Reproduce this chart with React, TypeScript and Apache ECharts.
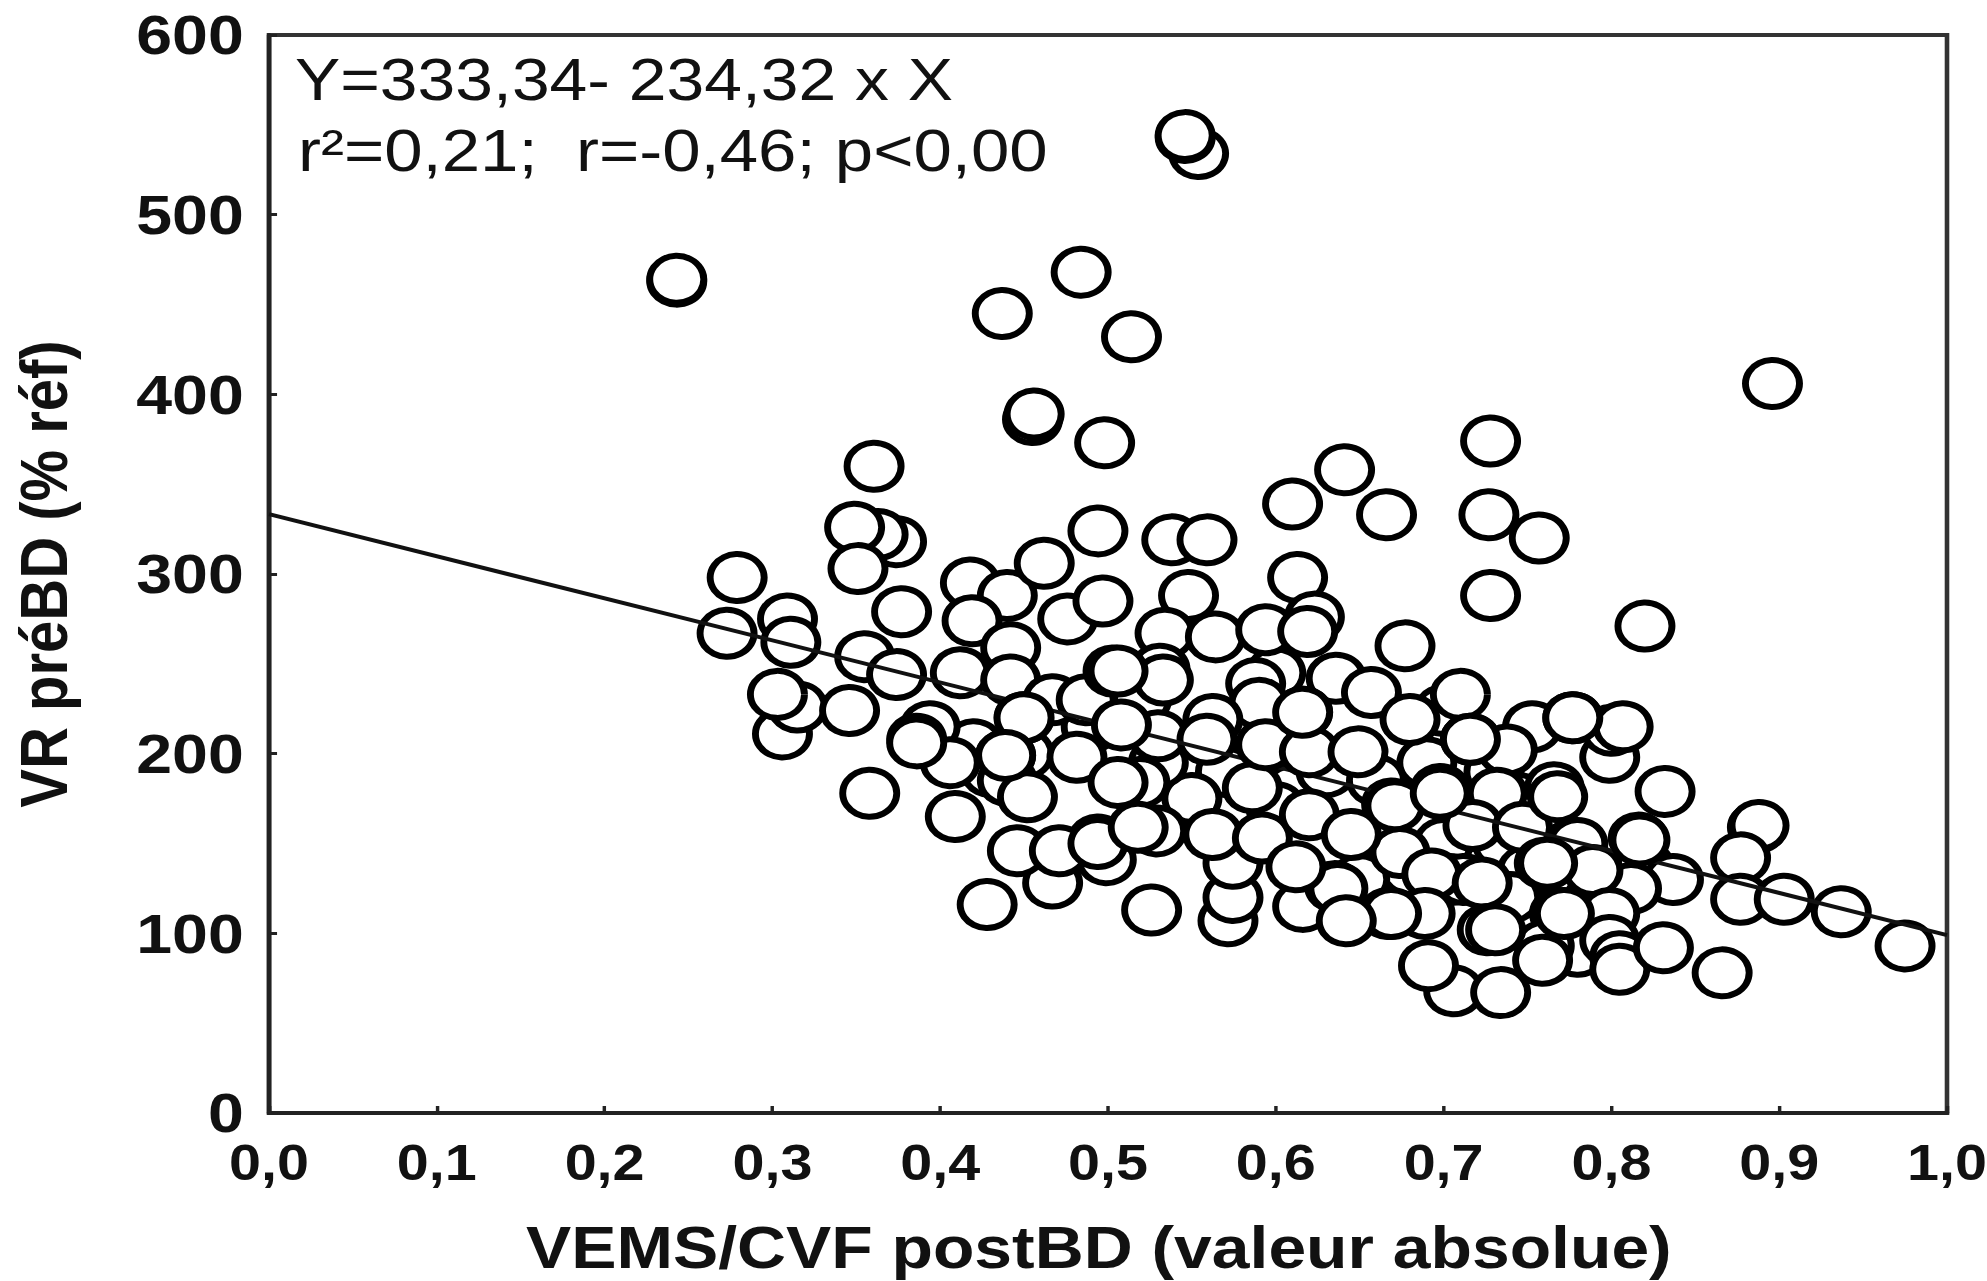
import React, { useEffect, useRef } from "react";
import * as echarts from "echarts";

const xTicks = { min: 0, max: 1, step: 0.1 };
const yTicks = { min: 0, max: 600, step: 100 };
const equationLine = "Y=333,34- 234,32 x X";
const statsLine = "r²=0,21;  r=-0,46; p<0,00";
const xTitle = "VEMS/CVF postBD (valeur absolue)";
const yTitle = "VR préBD (% réf)";
const regression: number[][] = [[0, 333.34], [1, 99.02]];

const isolated: number[][] = [
  [.243, 463], [.243, 464], [.554, 534], [.546, 543], [.546, 544], [.484, 468], [.437, 445], [.514, 432], [.896, 406],
  [.455, 386], [.456, 389], [.498, 373], [.3606, 360], [.728, 374], [.641, 358], [.61, 339], [.666, 333],
  [.727, 333], [.757, 320], [.728, 288], [.82, 271], [.358, 178], [.428, 116], [.526, 113], [.5715, 107], [.5745, 120],
];

const hiddenBehind: number[][] = [
  [.735, 150], [.75, 135], [.74, 120], [.70, 150], [.68, 135], [.65, 130], [.61, 180], [.60, 170], [.63, 190],
  [.57, 190], [.55, 175], [.53, 195], [.60, 245], [.52, 230], [.53, 210], [.42, 205], [.43, 190], [.45, 200],
  [.49, 215], [.66, 185], [.69, 195], [.73, 190], [.78, 150], [.745, 175], [.79, 120], [.78, 90],
];

const underLine: number[][] = [
  [.374, 318], [.363, 322], [.349, 326], [.351, 303], [.279, 298], [.273, 267], [.309, 275], [.311, 262],
  [.377, 279], [.306, 211], [.315, 226], [.303, 233], [.346, 224], [.355, 254], [.374, 244], [.418, 295],
  [.44, 288], [.419, 274], [.462, 306], [.476, 275], [.497, 285], [.494, 324], [.442, 259], [.412, 245],
  [.442, 241], [.394, 215], [.386, 208], [.45, 220], [.406, 195], [.439, 199], [.467, 230], [.487, 230],
  [.503, 246], [.538, 319], [.559, 319], [.548, 288], [.534, 267], [.564, 265], [.613, 298], [.623, 276],
  [.594, 269], [.619, 268], [.677, 260], [.531, 247], [.533, 241], [.636, 242], [.657, 234], [.616, 223],
  [.588, 239], [.59, 228], [.5625, 219], [.559, 208], [.70, 224], [.71, 233], [.716, 208], [.753, 215],
  [.777, 220], [.799, 198], [.80, 213], [.807, 215], [.68, 219], [.738, 202], [.757, 170], [.766, 181],
  [.669, 172], [.674, 145], [.698, 180], [.732, 178], [.7175, 160], [.747, 159], [.76, 139], [.82, 137],
  [.837, 130], [.816, 153], [.812, 125], [.789, 135], [.887, 159], [.888, 160], [.877, 142], [.877, 119],
  [.903, 119], [.937, 112], [.975, 93], [.704, 130], [.712, 130], [.693, 133], [.769, 111], [.667, 111],
  [.689, 111], [.799, 111], [.799, 96], [.76, 93], [.759, 85], [.805, 87], [.805, 80], [.866, 78],
  [.706, 68], [.734, 67], [.519, 184], [.529, 157], [.499, 141], [.494, 152], [.44, 185], [.467, 128],
  [.5745, 139], [.616, 115], [.635, 126], [.637, 125], [.669, 111],
];

const overLine: number[][] = [
  [.832, 179], [.409, 165], [.452, 176], [.446, 146], [.471, 146], [.494, 150], [.518, 159], [.5625, 155],
  [.592, 153], [.612, 137], [.642, 107], [.45, 220], [.439, 199], [.4815, 198], [.506, 184], [.508, 216],
  [.506, 246], [.386, 206], [.586, 181], [.594, 205], [.62, 201], [.62, 166], [.645, 155], [.649, 201],
  [.616, 223], [.671, 171], [.698, 178], [.716, 208], [.723, 128], [.726, 102], [.731, 102], [.691, 82],
  [.768, 176], [.772, 111], [.762, 139], [.817, 152], [.831, 92], [.777, 220],
];

const stretch = 1.15;
const plotLeft = 269 / stretch;
const plotWidth = 1678 / stretch;
const font = "'Liberation Sans', Arial, sans-serif";

export default function App() {
  const ref = useRef<HTMLDivElement>(null);
  useEffect(() => {
    const chart = echarts.init(ref.current!, undefined, { renderer: "svg" });
    const marker = {
      type: "scatter" as const,
      symbol: "circle",
      symbolSize: 47,
      itemStyle: { color: "#fff", borderColor: "#000", borderWidth: 6, opacity: 1 },
      silent: true,
    };
    const axisBase = {
      type: "value" as const,
      splitLine: { show: false },
      axisLine: { show: true, onZero: false, lineStyle: { color: "#222", width: 4 } },
      axisTick: { show: true, inside: true, length: 7, lineStyle: { color: "#222", width: 3 } },
      nameLocation: "middle" as const,
    };
    chart.setOption({
      animation: false,
      backgroundColor: "#fff",
      grid: { left: plotLeft, width: plotWidth, top: 35, height: 1078, show: true, outerBoundsMode: "none", borderColor: "#333", borderWidth: 4, backgroundColor: "transparent" },
      xAxis: {
        ...axisBase,
        min: xTicks.min, max: xTicks.max, interval: xTicks.step,
        name: xTitle, nameGap: 105,
        nameTextStyle: { fontFamily: font, fontWeight: "bold", fontSize: 59, color: "#111", padding: [0, 16, 0, 0] },
        axisLabel: { fontFamily: font, fontWeight: "bold", fontSize: 50, lineHeight: 44, color: "#111", margin: 27, formatter: (v: number) => v.toFixed(1).replace(".", ",") },
      },
      yAxis: {
        ...axisBase,
        min: yTicks.min, max: yTicks.max, interval: yTicks.step,
        name: yTitle, nameGap: 167,
        nameTextStyle: { fontFamily: font, fontWeight: "bold", fontSize: 58, color: "#111" },
        axisLabel: { fontFamily: font, fontWeight: "bold", fontSize: 56, lineHeight: 50, color: "#111", margin: 22 },
      },
      series: [
        { ...marker, name: "isolated", data: isolated, z: 2 },
        { ...marker, name: "hidden", data: hiddenBehind, z: 2 },
        { ...marker, name: "under", data: underLine, z: 2 },
        { type: "line", name: "regression", data: regression, symbol: "none", silent: true, lineStyle: { color: "#111", width: 4 }, z: 3 },
        { ...marker, name: "over", data: overLine, z: 4 },
      ],
      graphic: [
        { type: "text", x: 295 / stretch, y: 50, z: 10, style: { text: equationLine, font: `59px ${font}`, fill: "#111" } },
        { type: "text", x: 298 / stretch, y: 120, z: 10, style: { text: statsLine, font: `60px ${font}`, fill: "#111" } },
      ],
    });
    return () => chart.dispose();
  }, []);
  return (
    <div
      ref={ref}
      style={{ position: "absolute", left: 0, top: 0, width: 1987 / stretch, height: 1281, transform: `scaleX(${stretch})`, transformOrigin: "0 0" }}
    />
  );
}
